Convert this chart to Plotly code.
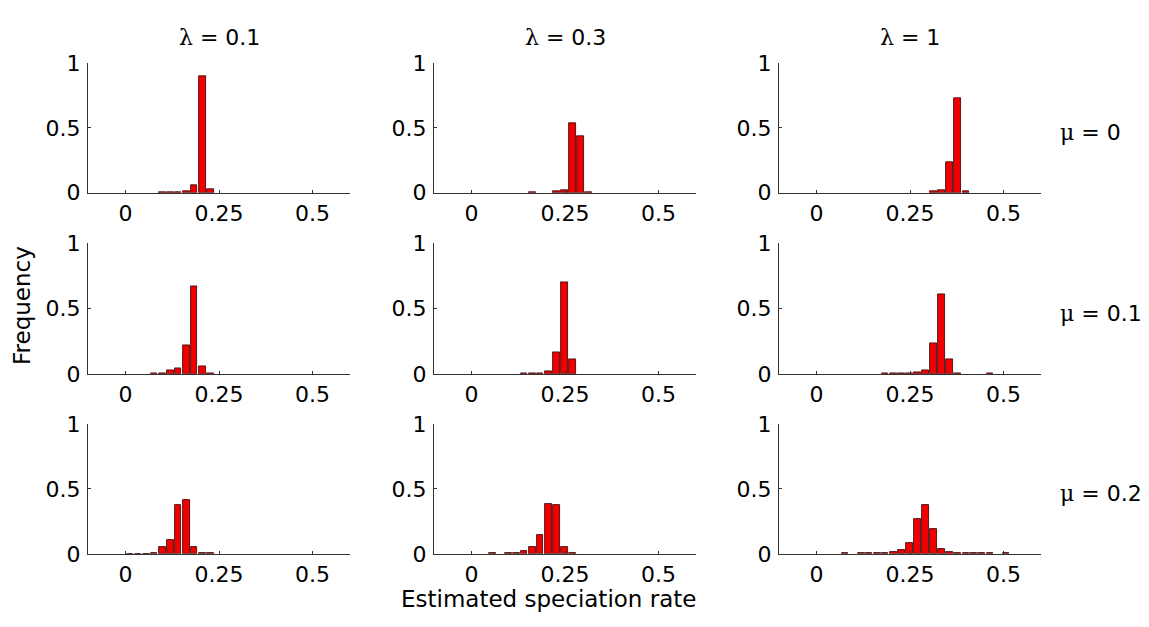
import plotly.graph_objects as go

# The page body has an 8px margin, so the figure is sized to fit the window
# and all placements below are given in window pixels and shifted by OFF.
OFF = 8
W, H = 1149 - OFF, 627 - OFF

# ---------------- data ----------------
lambda_labels = ["0.1", "0.3", "1"]
mu_labels = ["0", "0.1", "0.2"]

x_tickvals = [0, 0.25, 0.5]
x_ticktext = ["0", "0.25", "0.5"]
y_tickvals = [0, 0.5, 1]
y_ticktext = ["0", "0.5", "1"]

# bin centres (estimated speciation rate) and frequencies per panel
# row: mu = 0
c_l01_m0 = [0.099, 0.120, 0.141, 0.163, 0.184, 0.206, 0.227]
f_l01_m0 = [0.002, 0.003, 0.003, 0.012, 0.060, 0.900, 0.030]

c_l03_m0 = [0.163, 0.227, 0.249, 0.270, 0.291, 0.313]
f_l03_m0 = [0.004, 0.012, 0.020, 0.540, 0.435, 0.004]

c_l1_m0 = [0.313, 0.334, 0.356, 0.377, 0.399]
f_l1_m0 = [0.010, 0.020, 0.237, 0.730, 0.010]

# row: mu = 0.1
c_l01_m01 = [0.077, 0.099, 0.120, 0.141, 0.163, 0.184, 0.206, 0.227]
f_l01_m01 = [0.003, 0.003, 0.025, 0.045, 0.220, 0.674, 0.060, 0.004]

c_l03_m01 = [0.141, 0.163, 0.184, 0.206, 0.227, 0.249, 0.270]
f_l03_m01 = [0.003, 0.003, 0.003, 0.020, 0.165, 0.700, 0.110]

c_l1_m01 = [0.184, 0.206, 0.227, 0.249, 0.270, 0.291, 0.313, 0.334, 0.356, 0.377, 0.463]
f_l1_m01 = [0.003, 0.003, 0.004, 0.005, 0.012, 0.030, 0.233, 0.613, 0.110, 0.004, 0.003]

# row: mu = 0.2
c_l01_m02 = [0.013, 0.034, 0.056, 0.077, 0.099, 0.120, 0.141, 0.163, 0.184, 0.206, 0.227]
f_l01_m02 = [0.002, 0.002, 0.002, 0.010, 0.054, 0.103, 0.374, 0.414, 0.050, 0.003, 0.003]

c_l03_m02 = [0.056, 0.099, 0.120, 0.141, 0.163, 0.184, 0.206, 0.227, 0.249, 0.270]
f_l03_m02 = [0.004, 0.005, 0.006, 0.020, 0.049, 0.148, 0.384, 0.375, 0.056, 0.003]

c_l1_m02 = [0.077, 0.120, 0.141, 0.163, 0.184, 0.206, 0.227, 0.249, 0.270, 0.291,
            0.313, 0.334, 0.356, 0.377, 0.399, 0.420, 0.441, 0.463, 0.506]
f_l1_m02 = [0.003, 0.003, 0.003, 0.003, 0.003, 0.012, 0.030, 0.081, 0.266, 0.377,
            0.192, 0.040, 0.015, 0.003, 0.003, 0.003, 0.003, 0.003, 0.005]

panels = [
    [(c_l01_m0, f_l01_m0), (c_l03_m0, f_l03_m0), (c_l1_m0, f_l1_m0)],
    [(c_l01_m01, f_l01_m01), (c_l03_m01, f_l03_m01), (c_l1_m01, f_l1_m01)],
    [(c_l01_m02, f_l01_m02), (c_l03_m02, f_l03_m02), (c_l1_m02, f_l1_m02)],
]

# ---------------- layout geometry (window pixels) ----------------
col_px = [(88, 350), (434, 696), (779, 1041)]
row_px = [(53, 188), (240.7, 376.7), (429, 564.3)]


def px(s):
    return (s - OFF) / W


def py(s):
    return 1 - (s - OFF) / H


FONT = "DejaVu Sans"
GREEK = "DejaVu Serif"
TICKSIZE = 22

fig = go.Figure()
layout = dict(
    width=W, height=H,
    margin=dict(l=0, r=0, t=0, b=0),
    paper_bgcolor="white", plot_bgcolor="white",
    showlegend=False, bargap=0,
    font=dict(family=FONT, size=TICKSIZE, color="black"),
)

idx = 0
for r in range(3):
    for c in range(3):
        idx += 1
        sfx = "" if idx == 1 else str(idx)
        cx, fy = panels[r][c]
        fig.add_trace(go.Bar(
            x=cx, y=fy, width=0.017,
            marker=dict(color="#f20000", line=dict(color="#2a0000", width=0.8)),
            xaxis="x" + sfx, yaxis="y" + sfx,
            hoverinfo="skip",
        ))
        x0, x1 = col_px[c]
        t, b = row_px[r]
        layout["xaxis" + sfx] = dict(
            domain=[px(x0), px(x1)], anchor="y" + sfx,
            range=[-0.1, 0.6], tickvals=x_tickvals, ticktext=x_ticktext,
            ticks="inside", ticklen=3, tickcolor="#333",
            showline=True, linecolor="#333", linewidth=1,
            showgrid=False, zeroline=False,
            tickfont=dict(family=FONT, size=TICKSIZE, color="black"),
            ticklabelstandoff=1,
            fixedrange=True,
        )
        layout["yaxis" + sfx] = dict(
            domain=[py(b), py(t)], anchor="x" + sfx,
            range=[0, 1], tickvals=y_tickvals, ticktext=y_ticktext,
            ticks="inside", ticklen=3, tickcolor="#333",
            showline=True, linecolor="#333", linewidth=1,
            showgrid=False, zeroline=False,
            tickfont=dict(family=FONT, size=TICKSIZE, color="black"),
            ticklabelstandoff=2,
            fixedrange=True,
        )

annotations = []
for c, lab in enumerate(lambda_labels):
    x0, x1 = col_px[c]
    annotations.append(dict(
        x=px((x0 + x1) / 2), y=py(26), xref="paper", yref="paper",
        xanchor="center", yanchor="middle", showarrow=False,
        text=f"<span style='font-family:{GREEK}'>λ</span> = {lab}",
        font=dict(family=FONT, size=TICKSIZE, color="black"),
    ))
for r, lab in enumerate(mu_labels):
    t, b = row_px[r]
    annotations.append(dict(
        x=px(1058), y=py(b - 63), xref="paper", yref="paper",
        xanchor="left", yanchor="middle", showarrow=False,
        text=f"<span style='font-family:{GREEK}'>μ</span> = {lab}",
        font=dict(family=FONT, size=TICKSIZE, color="black"),
    ))
annotations.append(dict(
    x=px(22), y=py(306), xref="paper", yref="paper",
    xanchor="center", yanchor="middle", showarrow=False, textangle=-90,
    text="Frequency", font=dict(family=FONT, size=23, color="black"),
))
annotations.append(dict(
    x=px(548), y=py(611), xref="paper", yref="paper",
    xanchor="center", yanchor="middle", showarrow=False,
    text="Estimated speciation rate", font=dict(family=FONT, size=23, color="black"),
))
layout["annotations"] = annotations

fig.update_layout(**layout)
fig.write_html("out.html")
